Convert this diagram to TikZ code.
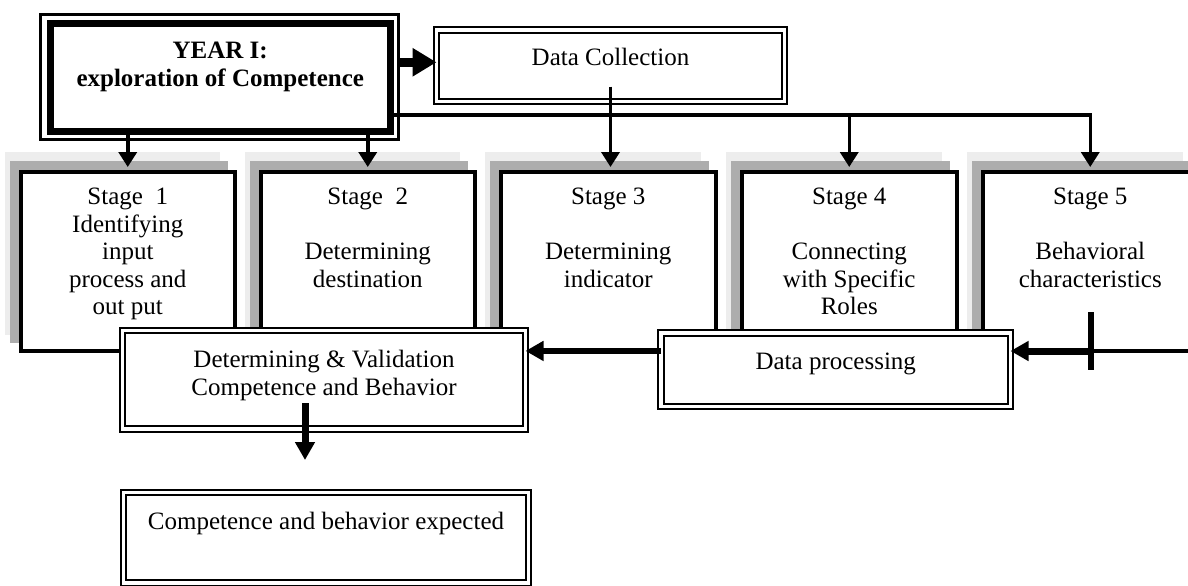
\documentclass[tikz,border=0pt]{standalone}
\usepackage{fontspec}
\setmainfont{Liberation Serif}
\usetikzlibrary{arrows.meta}
\begin{document}
\begin{tikzpicture}[x=0.5pt,y=-0.5pt,
  stagebox/.style={draw, line width=2pt, fill=white, minimum width=107.25pt, minimum height=89.25pt, inner sep=0pt, outer sep=0pt},
  dbox/.style={draw, fill=white, line width=1.1pt, double=white, double distance=1.6pt, inner sep=0pt, outer sep=0pt},
  txt/.style={font=\fontsize{12.5}{13.75}\selectfont, align=center, inner sep=0pt},
  shlight/.style={fill=black!7},
  shdark/.style={fill=black!32},
  conn/.style={line width=1.75pt, -{Triangle[length=7.5pt,width=9pt]}},
  bigarrow/.style={line width=3pt, -{Triangle[length=9pt,width=9.5pt]}},
  thinline/.style={line width=1.75pt}
]
\useasboundingbox (0,0) rectangle (1188,585);

% shadows of the stage boxes
\foreach \L in {20.5,260.5,501,742,983}{
  \fill[shlight, overlay] (\L-16,152) rectangle (\L+214.5-15,335);
  \fill[shdark, overlay] (\L-11,161) rectangle (\L+214.5-7,343);
}

% stage boxes
\node[stagebox] (s1) at (127.75,261.25) {};
\node[stagebox] (s2) at (367.75,261.25) {};
\node[stagebox] (s3) at (608.25,261.25) {};
\node[stagebox] (s4) at (849.25,261.25) {};
\node[stagebox, overlay] (s5) at (1090.25,261.25) {};

% year box
\node[draw, fill=white, line width=3.5pt, minimum width=169.75pt, minimum height=53.75pt, inner sep=0pt, outer sep=0pt] (year) at (220.25,77.25) {};
\draw[line width=1.25pt] ([shift={(-10,-9)}]year.north west) rectangle ([shift={(8.5,8.5)}]year.south east);

% data collection
\node[dbox, minimum width=174pt, minimum height=35.75pt] (dc) at (610.5,65.75) {};

% connectors at the top
\coordinate (ya) at ([xshift=4.25pt,yshift=7.5pt]year.east);
\draw[line width=4.5pt, -{Triangle[length=12pt,width=13.5pt]}] (ya) -- (ya -| dc.west);
\draw[conn] (year.south -| s1.north) -- ([yshift=2.5pt]s1.north);
\draw[conn] (year.south -| s2.north) -- ([yshift=2.5pt]s2.north);
\coordinate (hb) at ([yshift=8pt]year.south east);
\draw[conn] (hb) -| ([yshift=2.5pt]s5.north);
\draw[conn] (hb -| s4.north) -- ([yshift=2.5pt]s4.north);
\draw[conn] ([yshift=7.5pt]dc.south) -- ([yshift=2.5pt]dc.south |- s3.north);

% lower boxes
\node[dbox, minimum width=201.5pt, minimum height=49.25pt] (val) at (324,379.75) {};
\node[dbox, minimum width=174.75pt, minimum height=36.75pt] (dp) at (835.75,369.75) {};
\node[dbox, minimum width=202.5pt, minimum height=45.25pt, overlay] (exp) at (326,537.75) {};

% lower connectors
\coordinate (ay) at ([yshift=9.4pt]dp.west);
\draw[bigarrow] (ay) -- (ay -| val.east);
\coordinate (rin) at (1188,351);
\coordinate (tk) at (1091,351);
\coordinate (tkt) at (1091,312);
\coordinate (tkb) at (1091,370);
\draw[thinline] (rin) -- (tk);
\draw[line width=3.5pt, -{Triangle[length=9pt,width=9.5pt]}] (tk) -- (tk -| dp.east);
\draw[line width=3pt] (tkt) -- (tkb);
\coordinate (vs) at (305,403);
\coordinate (vt) at (305,460);
\draw[line width=3.5pt, -{Triangle[length=9pt,width=9.5pt]}] (vs) -- (vt);

% texts
\node[txt, font=\fontsize{12.5}{14}\selectfont\bfseries, anchor=north] (yeart) at ([yshift=-9.25pt]year.north) {YEAR I:\\exploration of Competence};
\node[txt, anchor=base] (dct) at (dc.center) {Data Collection};
\node[txt, anchor=north] (s1t) at ([yshift=-8pt]s1.north) {Stage\ \ 1\\Identifying\\input\\process and\\out put};
\node[txt, anchor=north] (s2t) at ([yshift=-8pt]s2.north) {Stage\ \ 2\\[13.75pt]Determining\\destination};
\node[txt, anchor=north] (s3t) at ([yshift=-8pt]s3.north) {Stage 3\\[13.75pt]Determining\\indicator};
\node[txt, anchor=north] (s4t) at ([yshift=-8pt]s4.north) {Stage 4\\[13.75pt]Connecting\\with Specific\\Roles};
\node[txt, anchor=north] (s5t) at ([yshift=-8pt]s5.north) {Stage 5\\[13.75pt]Behavioral\\characteristics};
\node[txt, anchor=north] (valt) at ([yshift=-9.75pt]val.north) {Determining \& Validation\\Competence and Behavior};
\node[txt, anchor=base] (dpt) at (dp.center) {Data processing};
\node[txt, anchor=base] (expt) at ([yshift=3.9pt]exp.center) {Competence and behavior expected};
\end{tikzpicture}
\end{document}
